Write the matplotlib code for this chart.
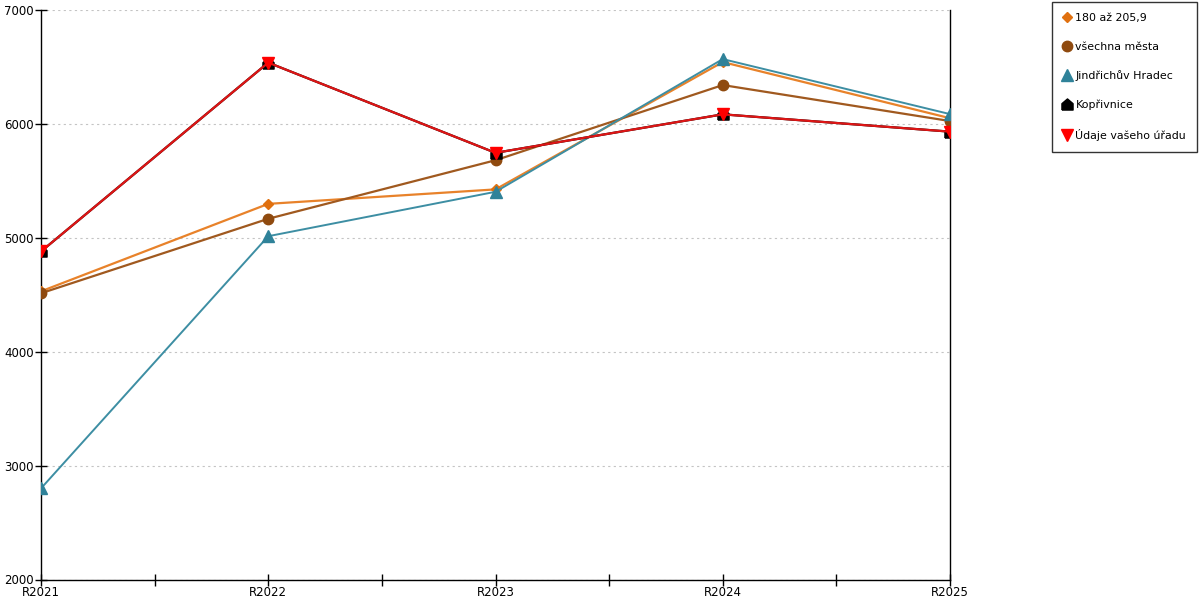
import matplotlib
matplotlib.use("Agg")
import matplotlib.pyplot as plt
import numpy as np
from matplotlib.ticker import MultipleLocator

# data
years = ["R2021", "R2022", "R2023", "R2024", "R2025"]
skupina = [4530, 5298, 5425, 6543, 6050]
vsechna_mesta = [4513, 5167, 5681, 6341, 6025]
jindrichuv_hradec = [2800, 5014, 5404, 6569, 6086]
koprivnice = [4880, 6538, 5746, 6084, 5932]
vas_urad = [4880, 6538, 5746, 6084, 5932]

plt.rcParams['font.family'] = ['DejaVu Sans']
plt.rcParams['font.size'] = 8.5

# house shaped marker for Kopřivnice
house = [(-1, -1), (1, -1), (1, 0.15), (0, 1), (-1, 0.15), (-1, -1)]

fig = plt.figure(figsize=(12, 6), dpi=100)
ax = fig.add_axes([41 / 1200, 1 - 579.5 / 600, (950 - 41) / 1200, 569.5 / 600])
x = np.arange(len(years))

ax.plot(x, skupina, color='#e8822a', lw=1.6, marker='D', ms=5,
        mfc='#e0700f', mec='#e0700f', label='180 až 205,9', zorder=3)
ax.plot(x, vsechna_mesta, color='#a0591f', lw=1.6, marker='o', ms=7.5,
        mfc='#8f4a0f', mec='#8f4a0f', label='všechna města', zorder=3)
ax.plot(x, jindrichuv_hradec, color='#3d8ea3', lw=1.4, marker='^', ms=8,
        mfc='#2f8299', mec='#2f8299', label='Jindřichův Hradec', zorder=3)
ax.plot(x, koprivnice, color='black', lw=1.6, marker=house, ms=8,
        mfc='black', mec='black', label='Kopřivnice', zorder=4)
ax.plot(x, vas_urad, color='#dd1515', lw=1.6, marker='v', ms=8,
        mfc='#ff0000', mec='#ff0000', label='Údaje vašeho úřadu', zorder=5)

ax.set_xlim(0, len(years) - 1)
ax.set_ylim(2000, 7000)
ax.set_xticks(x)
ax.set_xticklabels(years)
ax.xaxis.set_minor_locator(MultipleLocator(0.5))
ax.yaxis.set_major_locator(MultipleLocator(1000))
ax.tick_params(axis='both', which='both', direction='inout', length=8,
               width=1, colors='black', labelsize=8.5, pad=1)
ax.grid(axis='y', color='#c4c4c4', linestyle=(0, (2, 3)), linewidth=0.8)
ax.spines['top'].set_visible(False)
for side in ['left', 'right', 'bottom']:
    ax.spines[side].set_color('black')
    ax.spines[side].set_linewidth(1)
ax.set_axisbelow(True)

leg = fig.legend(loc='upper right', bbox_to_anchor=(1197 / 1200, 1 - 2 / 600),
                 frameon=True, fancybox=False, edgecolor='black',
                 fontsize=7.9, labelspacing=1.7, handlelength=0.6,
                 handletextpad=0.5, borderpad=1.0, borderaxespad=0,
                 markerscale=1.0)
leg.get_frame().set_linewidth(1)
for h in leg.get_lines():
    h.set_linestyle('None')

fig.savefig('out.png', dpi=100)
